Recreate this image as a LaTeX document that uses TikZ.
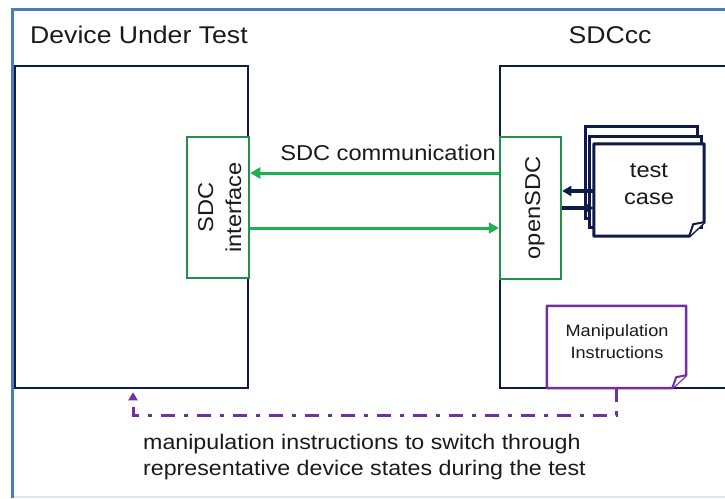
\documentclass[tikz,border=0pt]{standalone}
\usepackage{fontspec}
\setmainfont{Liberation Sans}[FakeStretch=1.1]
\usetikzlibrary{arrows.meta,calc}
\definecolor{navy}{HTML}{0E1B4A}
\definecolor{frameblue}{HTML}{4A7EBB}
\definecolor{framepale}{HTML}{DCE6F2}
\definecolor{boxgreen}{HTML}{23904A}
\definecolor{arrowgreen}{HTML}{1DB04F}
\definecolor{purp}{HTML}{7030A0}
\definecolor{ink}{HTML}{1A1A1A}
\begin{document}
\begin{tikzpicture}[x=1pt, y=-1pt,
  txt/.style={font=\fontsize{21.5}{27}\selectfont, text=ink, inner sep=0pt},
  bottomtxt/.style={font=\fontsize{21.1}{27}\selectfont, text=ink, inner sep=0pt},
  ttl/.style={font=\fontsize{24.2}{28}\selectfont, text=ink, inner sep=0pt},
  smalltxt/.style={font=\fontsize{16.5}{20}\selectfont, text=ink, inner sep=0pt},
  navybox/.style={draw=navy, line width=2.5pt, inner sep=0pt},
  greenbox/.style={draw=boxgreen, line width=2.5pt, fill=white, inner sep=0pt},
  pagebox/.style={draw=navy, line width=3pt, fill=white, inner sep=0pt},
  holder/.style={draw=none, inner sep=0pt},
  garrow/.style={draw=arrowgreen, line width=3pt, -{Triangle[length=10pt,width=11pt]}},
  karrow/.style={draw=navy, line width=3.5pt, -{Triangle[length=9pt,width=10pt]}},
  pdash/.style={draw=purp, line width=3pt, dash pattern=on 14pt off 9pt on 4pt off 9pt,
                -{Triangle[length=8pt,width=9pt]}}]
\clip (0,0) rectangle (725,498);
\fill[white] (0,0) rectangle (725,498);
% outer frame
\draw[framepale, line width=2pt] (12,497) -- (740,497);
\draw[frameblue, line width=3pt] (12,498) -- (12,9) -- (740,9);
% titles
\node[ttl, anchor=base west] (ttldut) at (30,43.5) {Device Under Test};
\node[ttl, anchor=base] (ttlsdccc) at (610,43.5) {SDCcc};
% main boxes
\node[navybox, minimum width=233pt, minimum height=322pt] (dut) at (131.5,227) {};
\node[navybox, minimum width=240pt, minimum height=322pt] (sdccc) at (620,227) {};
% green boxes
\node[greenbox, minimum width=62pt, minimum height=141pt] (sdci) at (218,207.5) {};
\node[txt, rotate=90, anchor=base] (sdct1) at (213,207.5) {SDC};
\node[txt, rotate=90, anchor=base] (sdct2) at (241,207.5) {interface};
\node[greenbox, minimum width=61pt, minimum height=142pt] (osdc) at (530.5,208) {};
\node[txt, rotate=90, anchor=base] (osdct) at (540,208) {openSDC};
% SDC communication
\coordinate (ya) at (0,173);
\coordinate (yb) at (0,228);
\draw[garrow] (osdc.west |- ya) -- (sdci.east |- ya);
\draw[garrow] (sdci.east |- yb) -- (osdc.west |- yb);
\node[txt, anchor=base east] (comm) at (496,160) {SDC communication};
% test case pages
\node[pagebox, minimum width=112pt, minimum height=92pt] (pg1) at (641,172) {};
\node[pagebox, minimum width=112pt, minimum height=91pt] (pg2) at (645,181.5) {};
\node[holder, minimum width=110pt, minimum height=92pt] (pg3) at (649,190) {};
\draw[navy, line width=3pt, fill=white, line join=round]
  (pg3.north west) -- (pg3.north east) -- ($(pg3.south east)+(0,-14)$)
  -- ($(pg3.south east)+(-15,0)$) -- (pg3.south west) -- cycle;
\draw[navy, line width=2pt, fill=white, line join=round]
  ($(pg3.south east)+(0,-14)$) -- ($(pg3.south east)+(-11,-12)$) -- ($(pg3.south east)+(-15,0)$);
\node[txt, anchor=base] (tc1) at (649,177) {test};
\node[txt, anchor=base] (tc2) at (649,204) {case};
\coordinate (yc) at (0,191);
\coordinate (yd) at (0,208);
\draw[karrow] (pg3.west |- yc) -- (osdc.east |- yc);
\draw[karrow] (osdc.east |- yd) -- (pg3.west |- yd);
% manipulation instructions note
\node[holder, minimum width=139pt, minimum height=82pt] (note) at (616.5,347) {};
\draw[purp, line width=2.5pt, fill=white, line join=round]
  (note.north west) -- (note.north east) -- ($(note.south east)+(0,-13)$)
  -- ($(note.south east)+(-14,0)$) -- (note.south west) -- cycle;
\draw[purp, line width=2pt, fill=white, line join=round]
  ($(note.south east)+(0,-13)$) -- ($(note.south east)+(-10,-11)$) -- ($(note.south east)+(-14,0)$);
\node[smalltxt, anchor=base] (nt1) at (617,336) {Manipulation};
\node[smalltxt, anchor=base] (nt2) at (617,358) {Instructions};
% dash-dot feedback line
\coordinate (dl) at (0,415);
\coordinate (ax) at (133,0);
\draw[pdash] (note.south) -- (note.south |- dl) -- (ax |- dl) -- ($(ax |- dut.south)+(0,3)$);
% bottom text
\node[bottomtxt, anchor=base west] (bt1) at (143,449) {manipulation instructions to switch through};
\node[bottomtxt, anchor=base west] (bt2) at (143,475) {representative device states during the test};
\end{tikzpicture}
\end{document}
